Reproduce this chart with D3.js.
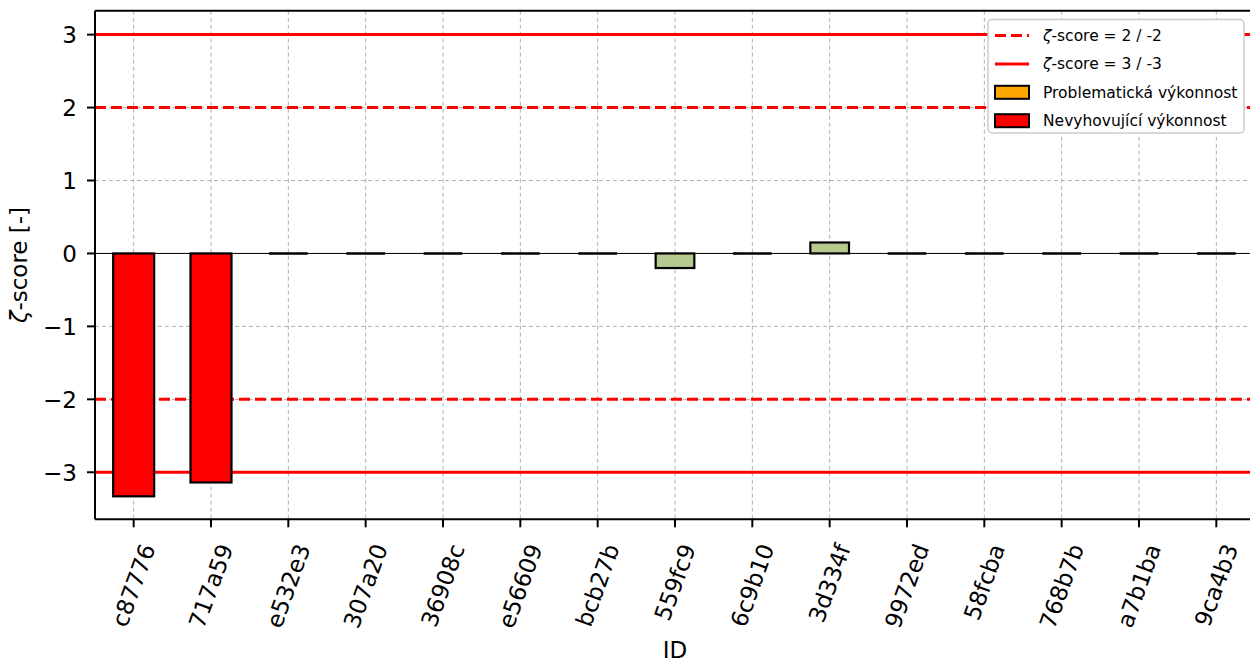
<!DOCTYPE html>
<html><head><meta charset="utf-8">
<script src="https://cdn.jsdelivr.net/npm/d3@7"></script>
<style>body{margin:0;background:#fff;}svg{display:block;font-family:"DejaVu Sans",sans-serif;}</style>
</head><body>
<svg id="chart" width="1250" height="664"></svg>
<script>
const ids = ["c87776","717a59","e532e3","307a20","36908c","e56609","bcb27b","559fc9","6c9b10","3d334f","9972ed","58fcba","768b7b","a7b1ba","9ca4b3"];
const zScores = [-3.33,-3.14,0,0,0,0,0,-0.2,0,0.15,0,0,0,0,0];
const yTicks = [-3,-2,-1,0,1,2,3];
const warnLevel = 2;
const failLevel = 3;
const legendLabels = [["ζ","-score = 2 / -2"],["ζ","-score = 3 / -3"],["","Problematická výkonnost"],["","Nevyhovující výkonnost"]];

const svg = d3.select("#chart");
const L = 95, R = 1255, T = 10.7, B = 519.3;
const x = d3.scaleLinear().domain([-0.5, ids.length - 0.5]).range([L, R]);
const y = d3.scaleLinear().domain([-3.645, 3.328]).range([B, T]);
const unit = x(1) - x(0);
const colorFor = v => Math.abs(v) >= failLevel ? "#ff0000" : (Math.abs(v) >= warnLevel ? "#ffa500" : "#b6c98f");

const defs = svg.append("defs");
defs.append("clipPath").attr("id","clip").append("rect").attr("x",L).attr("y",T).attr("width",R-L).attr("height",B-T);

const g = svg.append("g");
const plot = g.append("g").attr("clip-path","url(#clip)");

// grid
plot.selectAll(".vg").data(ids).join("line")
  .attr("x1",(d,i)=>x(i)).attr("x2",(d,i)=>x(i)).attr("y1",T).attr("y2",B)
  .attr("stroke","#b0b0b0").attr("stroke-width",1).attr("stroke-dasharray","4,3");
plot.selectAll(".hg").data(yTicks).join("line")
  .attr("x1",L).attr("x2",R).attr("y1",d=>y(d)).attr("y2",d=>y(d))
  .attr("stroke","#b0b0b0").attr("stroke-width",1).attr("stroke-dasharray","4,3");

// zero line
plot.append("line").attr("x1",L).attr("x2",R).attr("y1",y(0)).attr("y2",y(0)).attr("stroke","#000").attr("stroke-width",1);

// threshold lines
[warnLevel,-warnLevel].forEach(v=>{
  plot.append("line").attr("x1",L).attr("x2",R).attr("y1",y(v)).attr("y2",y(v))
    .attr("stroke","#ff0000").attr("stroke-width",3).attr("stroke-dasharray","11,5");
});
[failLevel,-failLevel].forEach(v=>{
  plot.append("line").attr("x1",L).attr("x2",R).attr("y1",y(v)).attr("y2",y(v))
    .attr("stroke","#ff0000").attr("stroke-width",3);
});

// bars
const barW = v => (Math.abs(v) >= failLevel - 0.5 ? 0.53 : 0.5) * unit;
ids.forEach((id,i)=>{
  const v = zScores[i];
  const w = barW(v);
  if (v === 0) {
    plot.append("line").attr("x1",x(i)-w/2).attr("x2",x(i)+w/2).attr("y1",y(0)).attr("y2",y(0))
      .attr("stroke","#000").attr("stroke-width",2.5);
  } else {
    plot.append("rect").attr("x",x(i)-w/2).attr("width",w)
      .attr("y",Math.min(y(v),y(0))).attr("height",Math.abs(y(v)-y(0)))
      .attr("fill",colorFor(v)).attr("stroke","#000").attr("stroke-width",2.2);
  }
});

// spines
[[L,L,T,B],[L,R,B,B],[L,R,T,T],[R,R,T,B]].forEach(s=>{
  g.append("line").attr("x1",s[0]).attr("x2",s[1]).attr("y1",s[2]).attr("y2",s[3]).attr("stroke","#000").attr("stroke-width",2);
});

// y ticks
const fmt = d => d < 0 ? "\u2212" + Math.abs(d) : String(d);
yTicks.forEach(t=>{
  g.append("line").attr("x1",L-8).attr("x2",L).attr("y1",y(t)).attr("y2",y(t)).attr("stroke","#000").attr("stroke-width",2);
  g.append("text").attr("x",L-18).attr("y",y(t)).attr("dy","0.36em").attr("text-anchor","end")
    .attr("font-size",23).attr("fill","#000").text(fmt(t));
});

// x ticks
const ang = 70*Math.PI/180;
ids.forEach((id,i)=>{
  g.append("line").attr("x1",x(i)).attr("x2",x(i)).attr("y1",B).attr("y2",B+8).attr("stroke","#000").attr("stroke-width",2);
  const t = g.append("text").attr("font-size",23).attr("text-anchor","middle").attr("dominant-baseline","central").text(id);
  const w = t.node().getComputedTextLength();
  const fh = 23*0.95;
  const h = w*Math.sin(ang) + fh*Math.cos(ang);
  const cy = B + 8 + 14 + h/2;
  t.attr("transform",`translate(${x(i)},${cy}) rotate(-70)`);
});

// axis labels
g.append("text").attr("x",(L+R)/2).attr("y",658).attr("text-anchor","middle").attr("font-size",23).text("ID");
const yl = g.append("text").attr("transform",`translate(27,${(T+B)/2}) rotate(-90)`).attr("text-anchor","middle").attr("font-size",23);
yl.append("tspan").attr("font-style","italic").text("ζ");
yl.append("tspan").text("-score [-]");

// legend
const lg = svg.append("g");
lg.append("rect").attr("x",988).attr("y",19.5).attr("width",256).attr("height",113.5).attr("rx",4)
  .attr("fill","#fff").attr("stroke","#cccccc").attr("stroke-width",1.5);
const rowY = i => 35.5 + i*28.4;
lg.append("line").attr("x1",995).attr("x2",1029).attr("y1",rowY(0)).attr("y2",rowY(0)).attr("stroke","#ff0000").attr("stroke-width",3).attr("stroke-dasharray","11,5");
lg.append("line").attr("x1",995).attr("x2",1029).attr("y1",rowY(1)).attr("y2",rowY(1)).attr("stroke","#ff0000").attr("stroke-width",3);
lg.append("rect").attr("x",995).attr("y",rowY(2)-6.5).attr("width",34).attr("height",13).attr("fill","#ffa500").attr("stroke","#000").attr("stroke-width",2);
lg.append("rect").attr("x",995).attr("y",rowY(3)-6.5).attr("width",34).attr("height",13).attr("fill","#ff0000").attr("stroke","#000").attr("stroke-width",2);
legendLabels.forEach((s,i)=>{
  const t = lg.append("text").attr("x",1043).attr("y",rowY(i)).attr("dy","0.36em").attr("font-size",15.5);
  if (s[0]) t.append("tspan").attr("font-style","italic").text(s[0]);
  t.append("tspan").text(s[1]);
});
</script>
</body></html>
